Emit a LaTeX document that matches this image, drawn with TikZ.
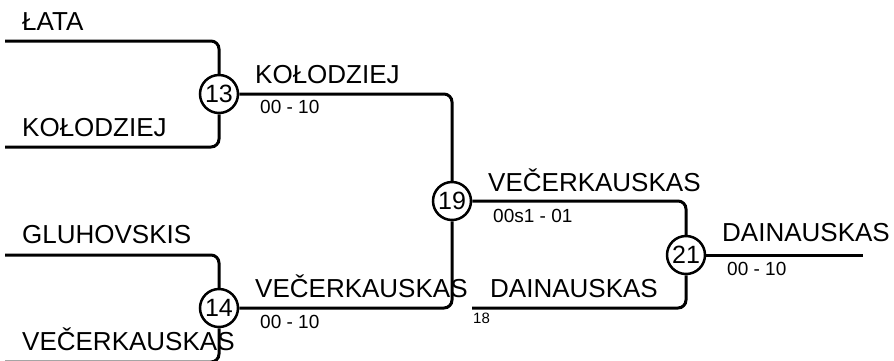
\documentclass[tikz,border=0pt]{standalone}
\usepackage{fontspec}
\setmainfont{Liberation Sans}
\usetikzlibrary{positioning}

\begin{document}
\begin{tikzpicture}[x=1pt,y=-1pt,
		game/.style={ % circle with the match number
			circle,draw,fill=white,line width=2.5pt,
			minimum size=38pt,inner sep=0pt,
			font=\fontsize{25}{25}\selectfont
		},
		bracket/.style={line width=3pt,rounded corners=8pt},
		player/.style={anchor=base west,inner sep=0pt,font=\fontsize{26}{26}\selectfont},
		score/.style={anchor=base west,inner sep=0pt,font=\fontsize{19}{19}\selectfont},
		seed/.style={anchor=base west,inner sep=0pt,font=\fontsize{15}{15}\selectfont}
		]
		\useasboundingbox (0,0) rectangle (894,360);

		%% matches
		\node[game] (m13) at (219,94) {13};
		\node[game] (m14) at (219,308) {14};
		\node[game] (m19) at (452,201) {19};
		\node[game] (m21) at (686,255) {21};

		%% free ends
		\coordinate (lata) at (5,41);
		\coordinate (kolodziej) at (5,147);
		\coordinate (gluhovskis) at (5,255);
		\coordinate (vecerkauskas) at (5,362);
		\coordinate (dainauskas) at (472,308);
		\coordinate (winner) at (863,255);

		% bracket lines
		\draw[bracket] (lata) -| (m13);
		\draw[bracket] (kolodziej) -| (m13);
		\draw[bracket] (gluhovskis) -| (m14);
		\draw[bracket] (vecerkauskas) -| (m14);
		\draw[bracket] (m13) -| (m19);
		\draw[bracket] (m14) -| (m19);
		\draw[bracket] (m19) -| (m21);
		\draw[bracket] (dainauskas) -| (m21);
		\draw[bracket] (m21) -- (winner);

		%% names and scores
		\node[player] (p1) at (22,30) {ŁATA};
		\node[player] (p2) at (22,136) {KOŁODZIEJ};
		\node[player] (p3) at (22,243) {GLUHOVSKIS};
		\node[player] (p4) at (22,350) {VEČERKAUSKAS};
		\node[player] (w13) at (255,83) {KOŁODZIEJ};
		\node[score] (s13) at (260,113) {00 - 10};
		\node[player] (w14) at (255,297) {VEČERKAUSKAS};
		\node[score] (s14) at (260,328) {00 - 10};
		\node[player] (w19) at (488,191) {VEČERKAUSKAS};
		\node[score] (s19) at (493,222) {00s1 - 01};
		\node[player] (w18) at (490,297) {DAINAUSKAS};
		\node[seed] (n18) at (473,323) {18};
		\node[player] (w21) at (722,241) {DAINAUSKAS};
		\node[score] (s21) at (727,275) {00 - 10};
\end{tikzpicture}
\end{document}
